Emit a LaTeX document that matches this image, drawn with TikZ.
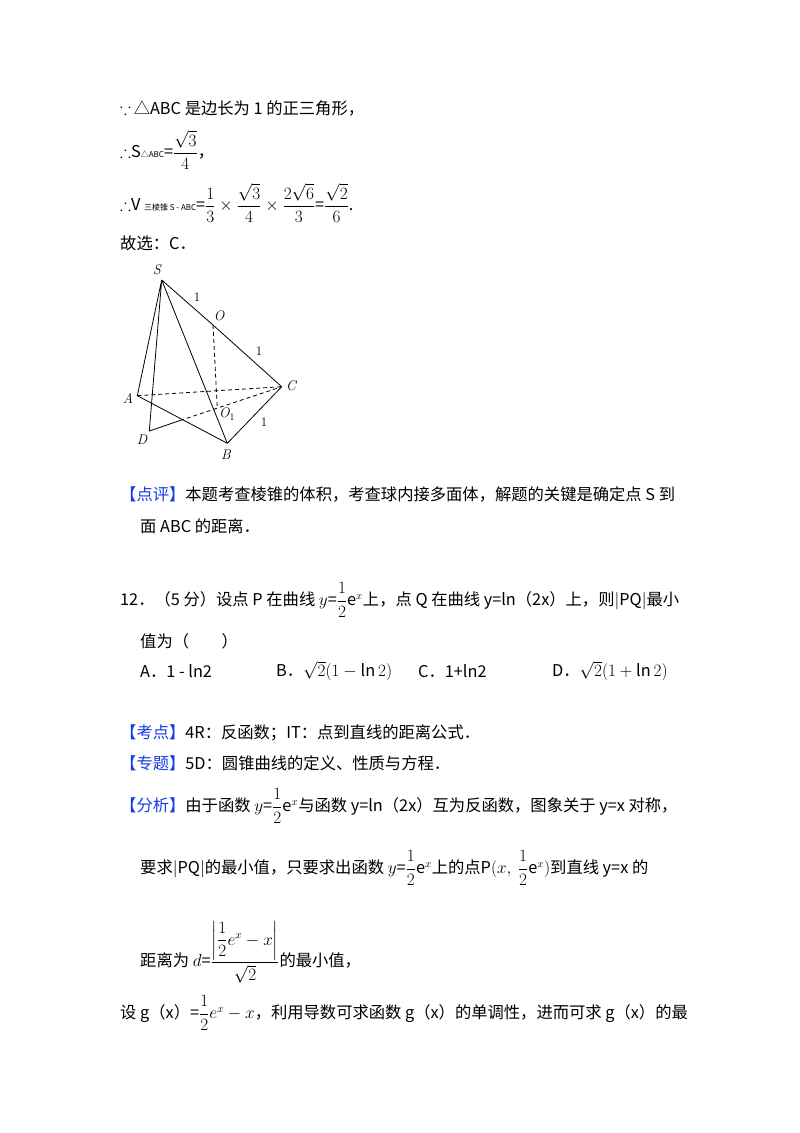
\documentclass[tikz,border=0pt]{standalone}
\usepackage{fontspec}
\usepackage{amsmath,amssymb}
\setmainfont{Noto Sans CJK SC}
\newfontfamily\lmfont{Latin Modern Roman}
\definecolor{hb}{RGB}{20,60,230}
\begin{document}
\begin{tikzpicture}[x=1pt,y=-1pt,
  t/.style={anchor=west,inner sep=0pt,font=\fontsize{16.3}{19}\selectfont},
  e/.style={line width=0.8pt},
  h/.style={line width=0.8pt,dashed,dash pattern=on 4pt off 3pt},
  lab/.style={font=\fontsize{14}{16}\selectfont\lmfont\itshape,inner sep=1pt},
  one/.style={font=\fontsize{13}{15}\selectfont\lmfont,inner sep=1pt}]
\useasboundingbox[fill=white] (0,0) rectangle (800,1133);
\node[t] (l1) at (120,108) {$\because$\,△ABC 是边长为 1 的正三角形，};
\node[t] (l2) at (120,150) {$\therefore$S{\fontsize{8}{9}\selectfont △ABC}=$\dfrac{\sqrt3}{4}$，};
\node[t] (l3) at (120,203) {$\therefore$V {\fontsize{8}{9}\selectfont 三棱锥 S - ABC}=$\dfrac13\times\dfrac{\sqrt3}{4}\times\dfrac{2\sqrt6}{3}$=$\dfrac{\sqrt2}{6}$.};
\node[t] (l4) at (120,243) {故选：C．};
% figure
\coordinate (S) at (161.7,280);
\coordinate (O) at (213,325);
\coordinate (C) at (281.7,386.7);
\coordinate (A) at (137.3,395.7);
\coordinate (D) at (149.3,431);
\coordinate (B) at (227.3,443.3);
\coordinate (O1) at (217.3,408.3);
\coordinate (X) at (180,420.5);
\draw[e] (S)--(A) (S)--(D) (S)--(B) (S)--(O)--(C) (A)--(B)--(C) (D)--(X);
\draw[h] (A)--(C) (X)--(C) (O)--(O1);
\node[lab] (nS) at (157,270) {S};
\node[lab] (nO) at (219,316) {O};
\node[lab] (nC) at (291,386) {C};
\node[lab] (nA) at (128,398) {A};
\node[lab] (nD) at (142,440) {D};
\node[lab] (nB) at (226,455) {B};
\node[lab] (nO1) at (227,414) {O\textsubscript{\upshape1}};
\node[one] (n1a) at (197,297) {1};
\node[one] (n1b) at (259,351) {1};
\node[one] (n1c) at (264,422) {1};
% text
\node[t] (p1) at (120,494) {\textcolor{hb}{【点评】}本题考查棱锥的体积，考查球内接多面体，解题的关键是确定点 S 到};
\node[t] (p2) at (140,526) {面 ABC 的距离．};
\node[t] (q1) at (120,600) {12．（5 分）设点 P 在曲线 $y$=$\dfrac12$e$^{x}$上，点 Q 在曲线 y=ln（2x）上，则$|$PQ$|$最小};
\node[t] (q2) at (140,641) {值为（\qquad）};
\node[t] (oA) at (140,671) {A．1 - ln2};
\node[t] (oB) at (276,671) {B．$\sqrt2(1-\ln2)$};
\node[t] (oC) at (418,671) {C．1+ln2};
\node[t] (oD) at (552,671) {D．$\sqrt2(1+\ln2)$};
\node[t] (k1) at (120,733) {\textcolor{hb}{【考点】}4R：反函数；IT：点到直线的距离公式．};
\node[t] (k2) at (120,763) {\textcolor{hb}{【专题】}5D：圆锥曲线的定义、性质与方程．};
\node[t] (k3) at (120,806) {\textcolor{hb}{【分析】}由于函数 $y$=$\dfrac12$e$^{x}$与函数 y=ln（2x）互为反函数，图象关于 y=x 对称，};
\node[t] (k4) at (140,868) {要求$|$PQ$|$的最小值，只要求出函数 $y$=$\dfrac12$e$^{x}$上的点P$(x,\ \dfrac12$e$^{x})$到直线 y=x 的};
\node[t] (k5) at (140,952) {距离为 $d$=$\dfrac{\left|\dfrac12e^{x}-x\right|}{\sqrt2}$的最小值，};
\node[t] (k6) at (120,1013) {设 g（x）=$\dfrac12e^{x}-x$，利用导数可求函数 g（x）的单调性，进而可求 g（x）的最};
\end{tikzpicture}
\end{document}
